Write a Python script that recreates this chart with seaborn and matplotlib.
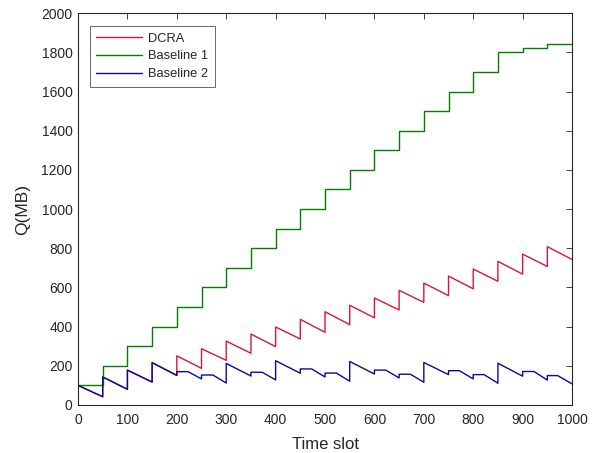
import matplotlib
matplotlib.use('Agg')
import matplotlib.pyplot as plt
import seaborn as sns

# breakpoints (time slot, Q in MB)
t_dcra = [0, 50, 50, 100, 100, 150, 150, 200,
          200, 250, 250, 300, 300, 350, 350, 400, 400, 450, 450, 500,
          500, 550, 550, 600, 600, 650, 650, 700, 700, 750, 750, 800,
          800, 850, 850, 900, 900, 950, 950, 1000]
q_dcra = [100, 42, 143, 80, 178, 117, 216, 151,
          251, 187, 287, 228, 326, 264, 362, 298, 398, 337, 437, 371,
          476, 410, 509, 445, 546, 485, 585, 524, 622, 558, 658, 593,
          694, 631, 733, 668, 770, 707, 808, 743]

t_base1 = [0, 50, 100, 150, 200, 250, 300, 350, 400, 450, 500,
           550, 600, 650, 700, 750, 800, 850, 900, 950, 1000]
q_base1 = [100, 200, 300, 400, 500, 600, 700, 800, 900, 1000, 1100,
           1200, 1300, 1400, 1500, 1600, 1700, 1800, 1820, 1840, 1840]

t_base2 = [0, 50, 50, 100, 100, 150, 150, 200,
           200, 223, 250, 250, 273, 300, 300, 350,
           350, 373, 400, 400, 450, 450, 473, 500,
           500, 523, 550, 550, 600, 600, 623, 650,
           650, 673, 700, 700, 750, 750, 772, 800,
           800, 822, 850, 850, 900, 900, 923, 950,
           950, 971, 1000]
q_base2 = [100, 42, 143, 80, 178, 117, 216, 151,
           170, 170, 133, 153, 153, 112, 212, 148,
           167, 167, 128, 226, 162, 184, 184, 143,
           163, 163, 121, 222, 158, 178, 178, 138,
           157, 157, 116, 217, 155, 175, 175, 133,
           155, 155, 111, 213, 147, 171, 171, 127,
           150, 150, 108]

sns.set_theme(style='white')
plt.rcParams['font.family'] = ['Liberation Sans', 'DejaVu Sans']

fig = plt.figure(figsize=(6.02, 4.53), dpi=100)
ax = fig.add_axes([0.1296, 0.106, 0.8206, 0.865])

sns.lineplot(x=t_dcra, y=q_dcra, ax=ax, sort=False, estimator=None,
             color='#DC143C', linewidth=1.0, label='DCRA')
sns.lineplot(x=t_base1, y=q_base1, ax=ax, sort=False, estimator=None,
             color='#007F00', linewidth=1.0, drawstyle='steps-post',
             label='Baseline 1')
sns.lineplot(x=t_base2, y=q_base2, ax=ax, sort=False, estimator=None,
             color='#0A0A9A', linewidth=1.0, label='Baseline 2')

ax.set_xlim(0, 1000)
ax.set_ylim(0, 2000)
ax.set_xticks(range(0, 1001, 100))
ax.set_yticks(range(0, 2001, 200))
ax.tick_params(direction='in', length=4, width=0.6, colors='#262626',
               labelsize=10, top=True, right=True, pad=4)
ax.tick_params(axis='x', pad=6)
for s in ax.spines.values():
    s.set_color('#262626')
    s.set_linewidth(0.8)

ax.set_xlabel('Time slot', fontsize=12, color='#262626', labelpad=7)
ax.set_ylabel('Q(MB)', fontsize=12.5, color='#262626', labelpad=8)

leg = ax.legend(loc='upper left', bbox_to_anchor=(0.024, 0.967),
                fontsize=9.3, frameon=True, fancybox=False,
                handlelength=3.5, borderpad=0.5, labelspacing=0.45,
                handletextpad=0.5, borderaxespad=0)
leg.get_frame().set_edgecolor('#262626')
leg.get_frame().set_linewidth(0.6)

fig.savefig('out.png', dpi=100)
